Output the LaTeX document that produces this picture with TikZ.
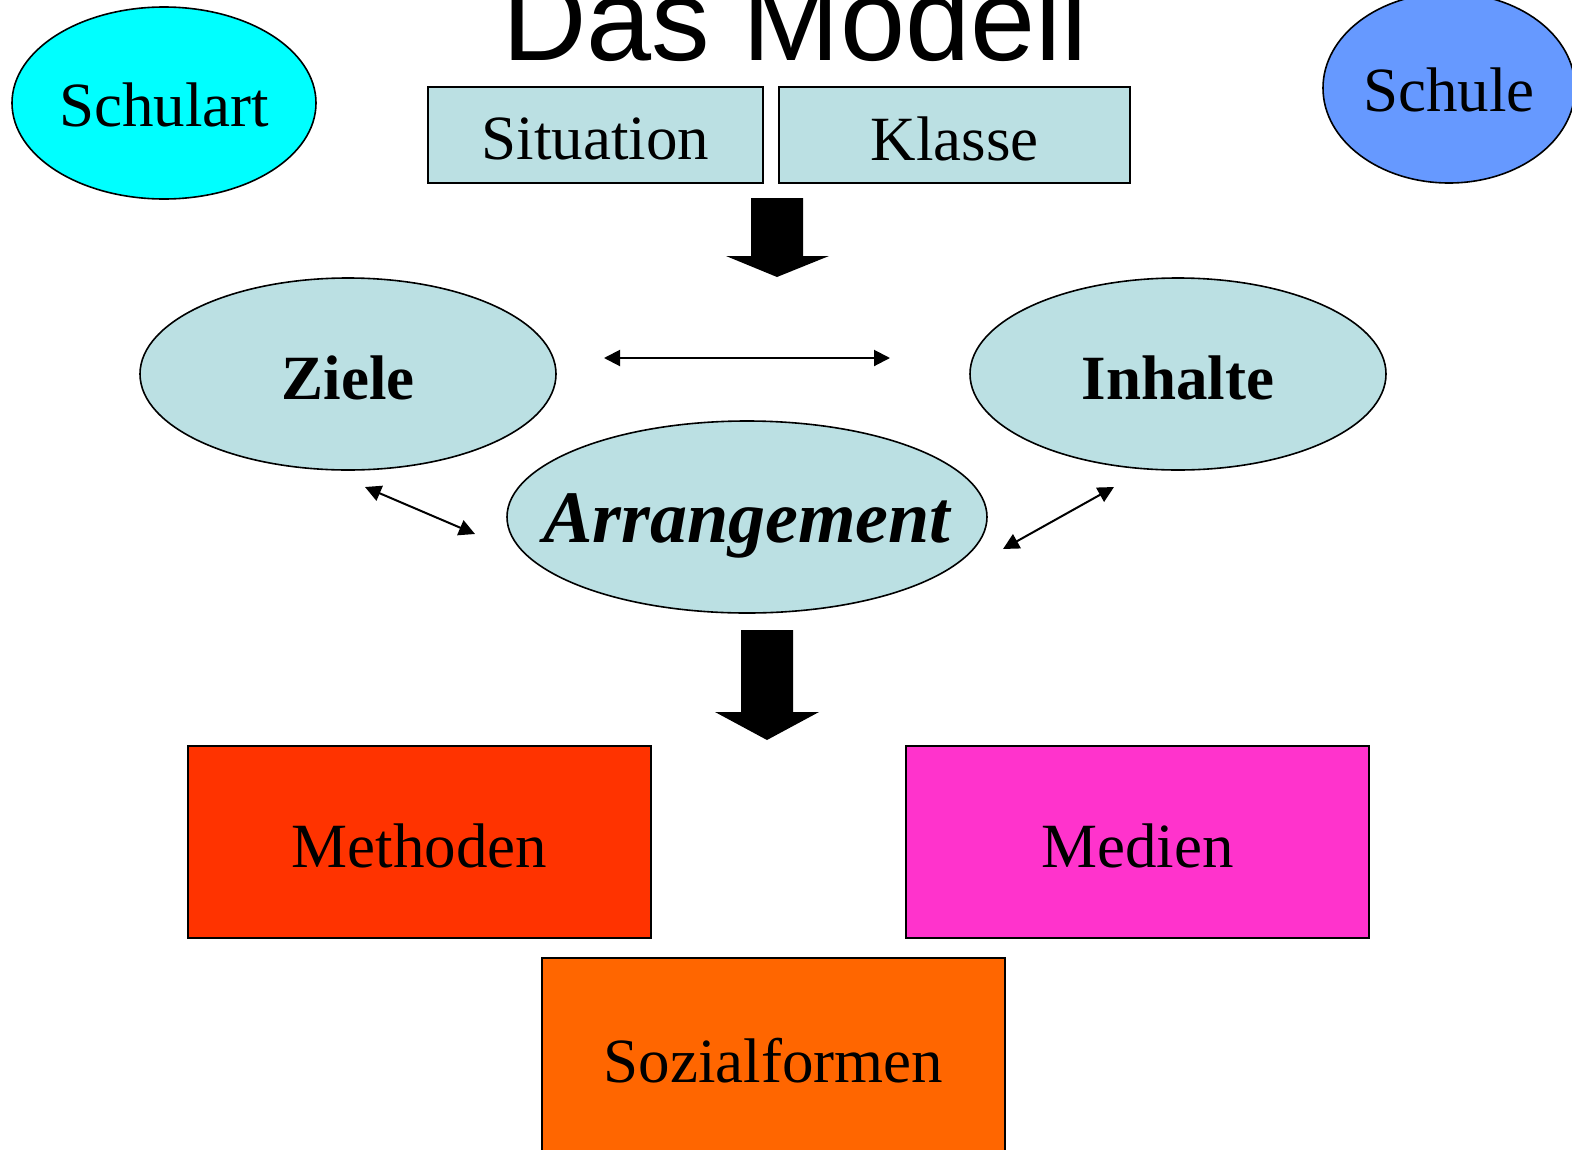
\documentclass[tikz,border=0pt]{standalone}
\usepackage{fontspec}
\setmainfont{Liberation Serif}
\newfontfamily\titlefont{Liberation Sans}
\usetikzlibrary{shapes.geometric,arrows.meta}
\definecolor{paleblue}{RGB}{187,224,227}
\definecolor{schulartc}{RGB}{0,255,255}
\definecolor{schulec}{RGB}{102,153,255}
\definecolor{methc}{RGB}{255,51,0}
\definecolor{medc}{RGB}{255,51,204}
\definecolor{sozc}{RGB}{255,102,0}
\newcommand\etxt[2][4pt]{\makebox[0pt]{\raisebox{-#1}[\height][\depth]{#2}}}
\newcommand\btxt[1]{\raisebox{-4pt}[\height][\depth]{#1}}
\tikzset{
  ell/.style={ellipse,draw=black,line width=1.6pt,inner sep=0pt,font=\fontsize{63}{70}\selectfont},
  rbox/.style={rectangle,draw=black,line width=1.6pt,inner sep=0pt,font=\fontsize{63}{70}\selectfont},
  dbl/.style={{Triangle[length=16pt,width=16pt]}-{Triangle[length=16pt,width=16pt]},line width=2pt},
  blk/.style={fill=black}
}
\begin{document}
\begin{tikzpicture}[x=1pt,y=-1pt]
\useasboundingbox (0,0) rectangle (1572,1149);
\node[anchor=base,font=\titlefont\fontsize{117}{120}\selectfont,inner sep=0pt] (title) at (795,60) {Das Modell};
\node[ell,fill=schulartc,minimum width=304pt,minimum height=192pt] (schulart) at (164,103) {\etxt[2pt]{Schulart}};
\node[ell,fill=schulec,minimum width=252pt,minimum height=190pt] (schule) at (1449,88) {\etxt[2pt]{Schule}};
\node[rbox,fill=paleblue,minimum width=335pt,minimum height=96pt] (situation) at (595.5,135) {\btxt{Situation}};
\node[rbox,fill=paleblue,minimum width=351pt,minimum height=96pt] (klasse) at (954.5,135) {\btxt{Klasse}};
\fill[blk] (751,198) -- (803,198) -- (803,256) -- (829,256) -- (777,277) -- (726,256) -- (751,256) -- cycle;
\node[ell,fill=paleblue,minimum width=416pt,minimum height=192pt,font=\bfseries\fontsize{63}{70}\selectfont] (ziele) at (348,374) {\etxt{Ziele}};
\node[ell,fill=paleblue,minimum width=416pt,minimum height=192pt,font=\bfseries\fontsize{63}{70}\selectfont] (inhalte) at (1178,374) {\etxt{Inhalte}};
\node[ell,fill=paleblue,minimum width=480pt,minimum height=192pt,font=\bfseries\itshape\fontsize{74}{80}\selectfont] (arr) at (747,517) {\etxt[9pt]{Arrangement}};
\coordinate (h1) at (604,358);
\coordinate (h2) at (890,358);
\draw[dbl] (h1) -- (h2);
\coordinate (z1) at (365,487);
\coordinate (z2) at (475,534);
\draw[dbl] (z1) -- (z2);
\coordinate (i1) at (1114,487);
\coordinate (i2) at (1003,549);
\draw[dbl] (i1) -- (i2);
\fill[blk] (741,630) -- (793,630) -- (793,712) -- (819,712) -- (767,740) -- (715,712) -- (741,712) -- cycle;
\node[rbox,fill=methc,minimum width=463pt,minimum height=192pt] (methoden) at (419.5,842) {\btxt{Methoden}};
\node[rbox,fill=medc,minimum width=463pt,minimum height=192pt] (medien) at (1137.5,842) {\btxt{Medien}};
\node[rbox,fill=sozc,minimum width=463pt,minimum height=198pt] (soz) at (773.5,1057) {\btxt{Sozialformen}};
\end{tikzpicture}
\end{document}
